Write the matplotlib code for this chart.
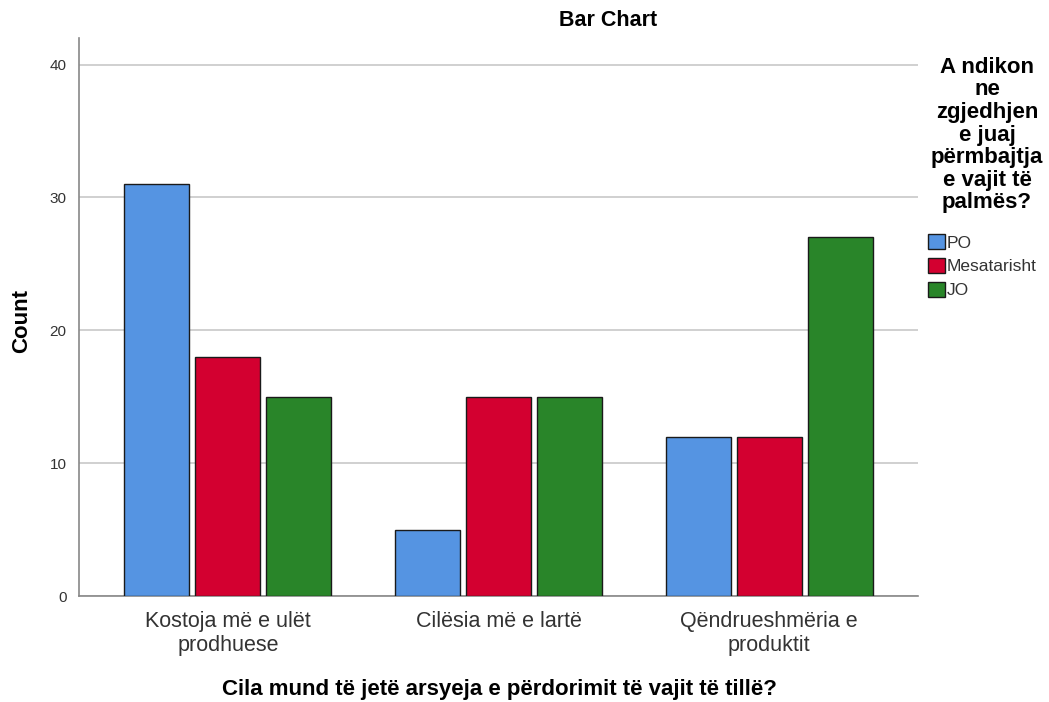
import numpy as np
import matplotlib.pyplot as plt
from matplotlib.patches import Patch

plt.rcParams['font.family'] = ['Liberation Sans', 'DejaVu Sans']

categories = ["Kostoja më e ulët\nprodhuese", "Cilësia më e lartë", "Qëndrueshmëria e\nproduktit"]
series_names = ["PO", "Mesatarisht", "JO"]
po = [31, 5, 12]
mesatarisht = [18, 15, 12]
jo = [15, 15, 27]
colors = ["#5594E2", "#D30030", "#298529"]

fig = plt.figure(figsize=(10.49, 7.02), dpi=100)
ax = fig.add_axes([79 / 1049, 1 - 596 / 702, (918 - 79) / 1049, (596 - 38) / 702])

x = np.arange(len(categories))
width = 0.24
offset = 0.262
for i, (vals, col) in enumerate(zip([po, mesatarisht, jo], colors)):
    ax.bar(x + (i - 1) * offset, vals, width, color=col, edgecolor="#1a1a1a", linewidth=1, zorder=3)

ax.set_xlim(-0.55, 2.55)
ax.set_ylim(0, 42)
ax.set_yticks([0, 10, 20, 30, 40])
ax.yaxis.grid(True, color="#c8c8c8", linewidth=1.2, zorder=0)
ax.set_xticks(x)
ax.set_xticklabels(categories, fontsize=15.5, color="#333333", linespacing=1.15)
ax.tick_params(axis="y", labelsize=11, colors="#333333", length=0, pad=9)
ax.tick_params(axis="x", length=0, pad=11)
for s in ["top", "right"]:
    ax.spines[s].set_visible(False)
for s in ["left", "bottom"]:
    ax.spines[s].set_color("#888888")
    ax.spines[s].set_linewidth(1.2)

fig.text(22 / 1049, 1 - 321 / 702, "Count", rotation=90, ha="center", va="center",
         fontsize=16, fontweight="bold")
fig.text(499 / 1049, 1 - 690 / 702, "Cila mund të jetë arsyeja e përdorimit të vajit të tillë?",
         ha="center", va="center", fontsize=16, fontweight="bold")
fig.text(608 / 1049, 1 - 20 / 702, "Bar Chart", ha="center", va="center", fontsize=15.5, fontweight="bold")

fig.text(987 / 1049, 1 - 135 / 702, "A ndikon\nne\nzgjedhjen\ne juaj\npërmbajtja\ne vajit të\npalmës?",
         ha="center", va="center", fontsize=16, fontweight="bold", linespacing=1.1)
handles = [Patch(facecolor=c, edgecolor="#1a1a1a", linewidth=1) for c in colors]
fig.legend(handles, series_names, loc="upper left", bbox_to_anchor=(916 / 1049, 1 - 222 / 702),
           frameon=False, fontsize=12.5, handlelength=0.95, handleheight=0.95,
           handletextpad=0.12, labelspacing=0.42, borderpad=0.2, labelcolor="#333333")

fig.savefig("out.png", dpi=100)
